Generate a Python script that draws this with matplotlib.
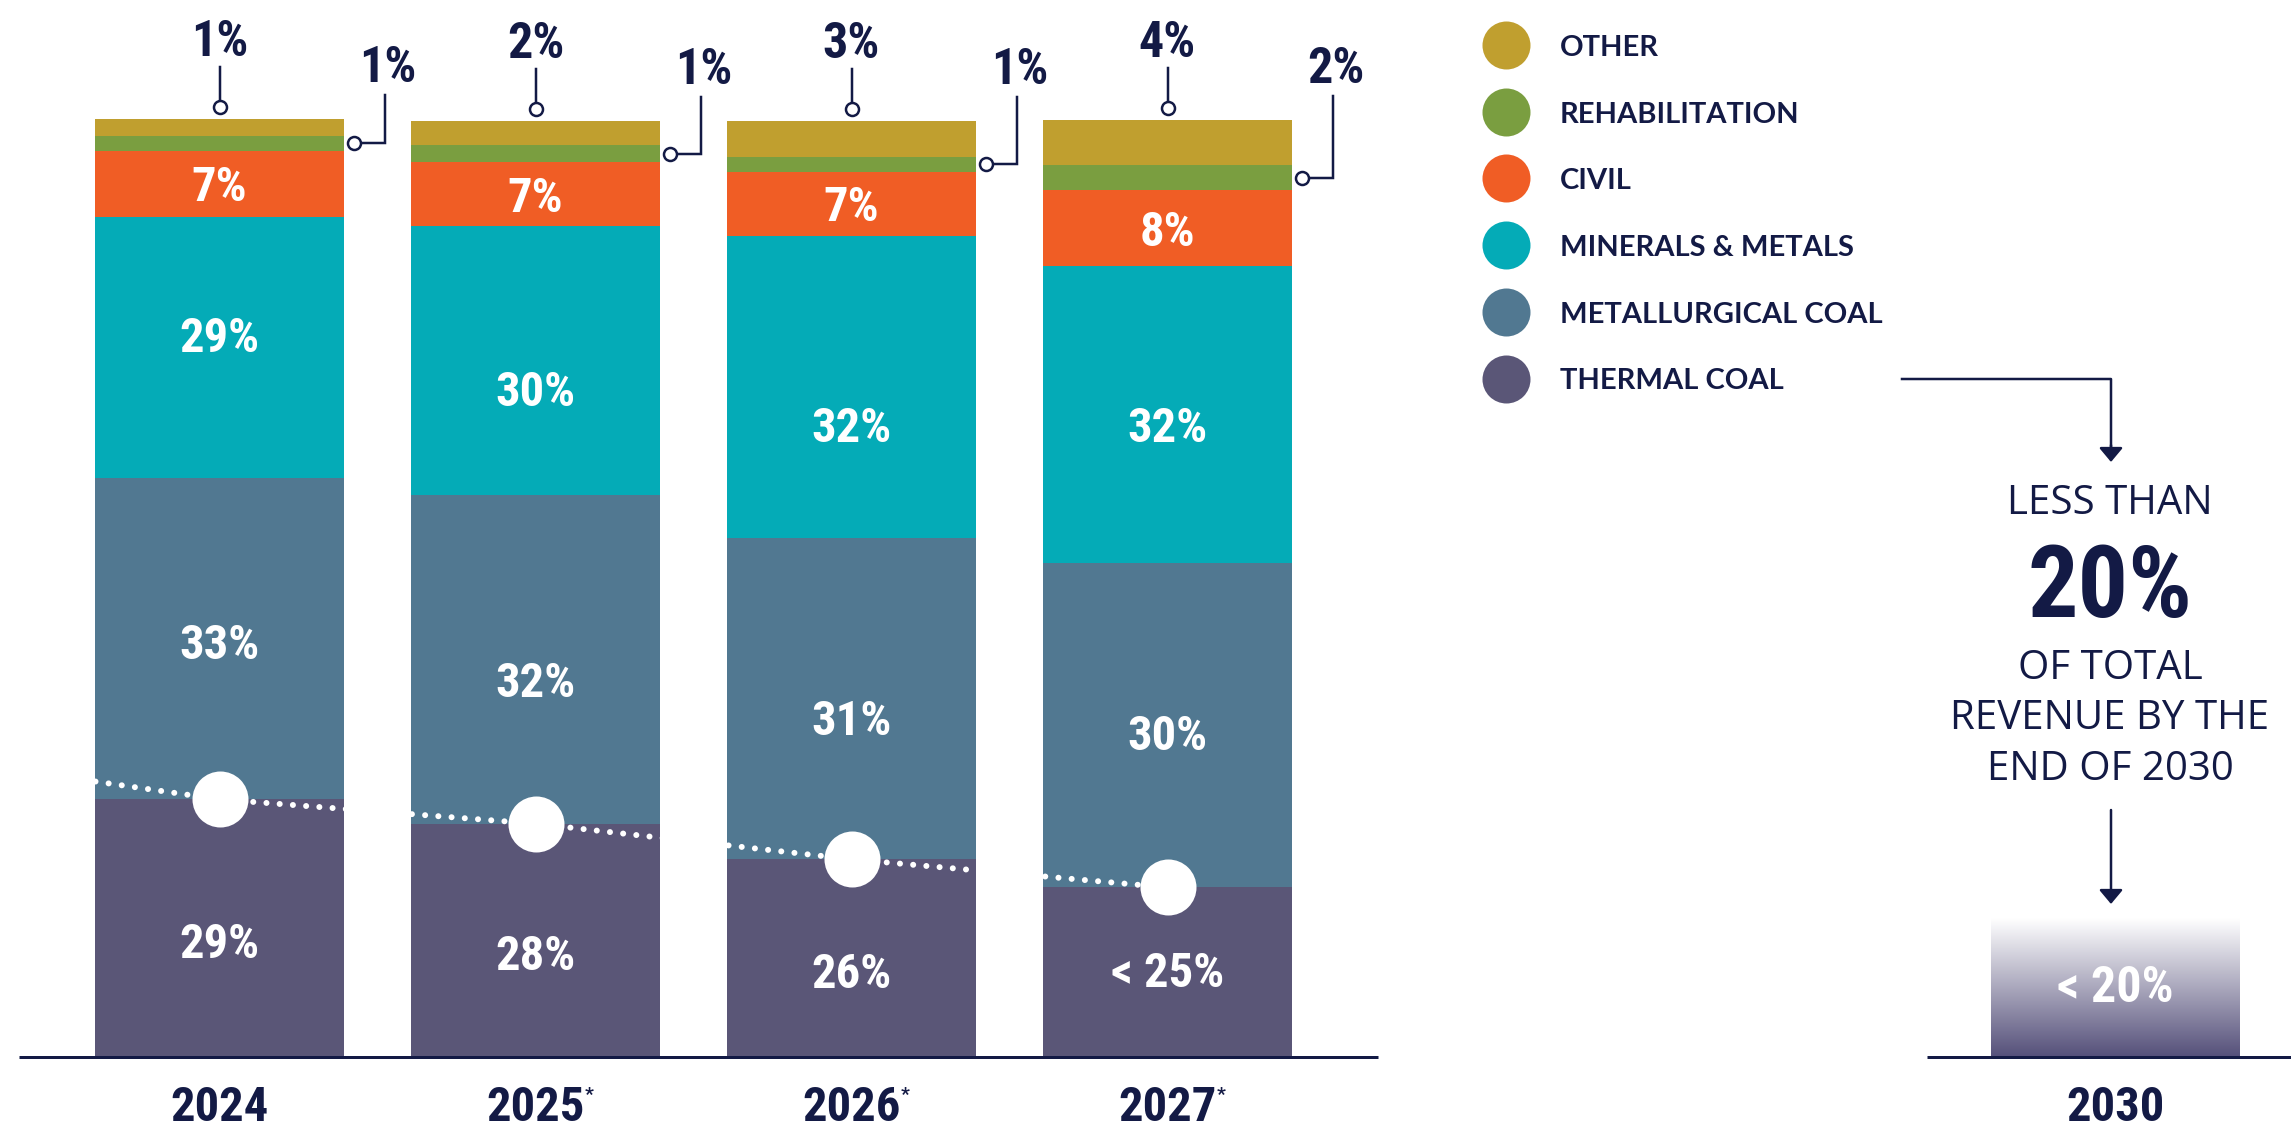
import numpy as np
import matplotlib.pyplot as plt
from matplotlib.colors import LinearSegmentedColormap

# Share of each bar as drawn (percent of the full bar height), bottom to top
years = ["2024", "2025", "2026", "2027"]
projected = [False, True, True, True]
thermal = [27.5, 24.9, 21.1, 18.1]
metallurgical = [34.3, 35.1, 34.3, 34.6]
minerals = [27.9, 28.7, 32.2, 31.7]
civil = [7.0, 6.8, 6.9, 8.1]
rehabilitation = [1.6, 1.8, 1.6, 2.7]
other = [1.8, 2.6, 3.8, 4.8]

# Printed labels
thermal_labels = ["29%", "28%", "26%", "< 25%"]
metallurgical_labels = ["33%", "32%", "31%", "30%"]
minerals_labels = ["29%", "30%", "32%", "32%"]
civil_labels = ["7%", "7%", "7%", "8%"]
rehabilitation_labels = ["1%", "1%", "1%", "2%"]
other_labels = ["1%", "2%", "3%", "4%"]

trend_lead_in = 29.4  # dotted trend height at the left edge of the first bar

target_year = "2030"
target_share = 14.8
target_label = "< 20%"

legend_names = ["OTHER", "REHABILITATION", "CIVIL", "MINERALS & METALS",
                "METALLURGICAL COAL", "THERMAL COAL"]

# Colours
NAVY = "#131a45"
C_OTHER = "#c09f2f"
C_REHAB = "#7a9e40"
C_CIVIL = "#f05d25"
C_MIN = "#04abb7"
C_MET = "#517891"
C_THERM = "#5a5677"

NUM_FONT = ["Roboto Condensed", "Open Sans Condensed", "DejaVu Sans Condensed",
            "Liberation Sans Narrow", "Roboto", "DejaVu Sans"]
LEG_FONT = ["Lato", "DejaVu Sans"]
TXT_FONT = ["Open Sans", "DejaVu Sans"]

# Figure / axes set up so one axes covers the whole canvas
W, H = 2291, 1133
PX0, PXU = 219.5, 316.0   # pixel of x=0, pixels per category
PY0, PYU = 1057.0, 9.37   # pixel of 0 %, pixels per percent
PT = 0.72                 # points per pixel at 100 dpi

# vertical nudges (pixels, + = down) of the in-bar labels, per series
nudge = {
    "thermal": [12, 12, 12, -3],
    "metallurgical": [3, 20, 19, 7],
    "minerals": [-13, 28, 37, 10],
    "civil": [0, 0, 0, 0],
}


def dx(px):
    return (px - PX0) / PXU


def dy(py):
    return (PY0 - py) / PYU


fig = plt.figure(figsize=(W / 100, H / 100), dpi=100)
ax = fig.add_axes([0, 0, 1, 1])
ax.axis("off")

x = np.arange(len(years))
width = 0.785

# Stacked bars
series = [
    ("thermal", thermal, C_THERM, thermal_labels),
    ("metallurgical", metallurgical, C_MET, metallurgical_labels),
    ("minerals", minerals, C_MIN, minerals_labels),
    ("civil", civil, C_CIVIL, civil_labels),
    ("rehabilitation", rehabilitation, C_REHAB, None),
    ("other", other, C_OTHER, None),
]
bottom = np.zeros(len(years))
rehab_mid = None
for name, vals, color, labels in series:
    vals = np.array(vals)
    ax.bar(x, vals, width, bottom=bottom, color=color, linewidth=0, zorder=2)
    if labels is not None:
        for i in range(len(years)):
            yc = bottom[i] + vals[i] / 2 - nudge[name][i] / PYU
            ax.text(x[i], yc - 17.5 / PYU, labels[i], ha="center", va="baseline",
                    fontsize=35, fontweight="bold", family=NUM_FONT, color="white", zorder=5)
    if name == "rehabilitation":
        rehab_mid = bottom + vals / 2
    bottom = bottom + vals
tops = bottom

# Dotted trend line and white markers on the thermal coal boundary
ax.plot([x[0] - width / 2] + list(x), [trend_lead_in] + thermal, color="white",
        lw=6 * PT, linestyle=(0, (0.01, 2.2)), dash_capstyle="round", zorder=3)
ax.plot(x, thermal, "o", ms=56 * PT, mfc="white", mec="none", zorder=4)

# Leaders: 'other' above each bar, 'rehabilitation' to the right
for i in range(len(years)):
    ax.plot([x[i], x[i]], [tops[i] + 18 / PYU, tops[i] + 52 / PYU], color=NAVY, lw=2.5 * PT, zorder=3)
    ax.plot(x[i], tops[i] + 12 / PYU, "o", ms=13 * PT, mfc="white", mec=NAVY, mew=2.5 * PT, zorder=4)
    ax.text(x[i], tops[i] + 63 / PYU, other_labels[i], ha="center", va="baseline",
            fontsize=36, fontweight="bold", family=NUM_FONT, color=NAVY)

    cx = x[i] + width / 2 + 10 / PXU
    ex = x[i] + 165 / PXU
    ax.plot([cx, ex, ex], [rehab_mid[i], rehab_mid[i], tops[i] + 24 / PYU],
            color=NAVY, lw=2.5 * PT, zorder=3, solid_joinstyle="miter")
    ax.plot(cx, rehab_mid[i], "o", ms=13 * PT, mfc="white", mec=NAVY, mew=2.5 * PT, zorder=4)
    ax.text(ex + 3 / PXU, tops[i] + 37 / PYU, rehabilitation_labels[i], ha="center", va="baseline",
            fontsize=36, fontweight="bold", family=NUM_FONT, color=NAVY)

    # Year labels
    t = ax.text(x[i], dy(1131), years[i], ha="center", va="bottom",
                fontsize=35, fontweight="bold", family=NUM_FONT, color=NAVY)
    if projected[i]:
        ax.annotate("*", xy=(1, 1), xycoords=t, xytext=(0, -1), textcoords="offset points",
                    ha="left", va="top", fontsize=14, fontweight="bold",
                    family=NUM_FONT, color=NAVY)

# 2030 target bar with a fading gradient
tx = len(years) + 2
fade = LinearSegmentedColormap.from_list("fade", ["#55507a", "white"])
grad = np.linspace(0, 1, 256).reshape(-1, 1)
ax.imshow(grad, cmap=fade, origin="lower", aspect="auto", zorder=2,
          extent=[tx - width / 2, tx + width / 2, 0, target_share])
ax.text(tx, dy(1002), target_label, ha="center", va="baseline", fontsize=36,
        fontweight="bold", family=NUM_FONT, color="white", zorder=5)
ax.text(tx, dy(1131), target_year, ha="center", va="bottom", fontsize=35,
        fontweight="bold", family=NUM_FONT, color=NAVY)

# Baselines
ax.plot([dx(19), dx(1378)], [0, 0], color=NAVY, lw=3 * PT, solid_capstyle="butt", zorder=3)
ax.plot([dx(1927), dx(W)], [0, 0], color=NAVY, lw=3 * PT, solid_capstyle="butt", zorder=3)

# Legend
leg_colors = [C_OTHER, C_REHAB, C_CIVIL, C_MIN, C_MET, C_THERM]
for k, (name, color) in enumerate(zip(legend_names, leg_colors)):
    py = 45 + 66.7 * k
    ax.plot(dx(1506), dy(py), "o", ms=48 * PT, color=color, mec="none")
    ax.text(dx(1560), dy(py + 11), name, ha="left", va="baseline", fontsize=21,
            fontweight="bold", family=LEG_FONT, color=NAVY)

# Callout from thermal coal to the 2030 target
ax.plot([dx(1902), dx(2111), dx(2111)], [dy(379), dy(379), dy(452)], color=NAVY, lw=2.5 * PT)
arrow = dict(arrowstyle="-|>,head_length=0.43,head_width=0.36", mutation_scale=20,
             color=NAVY, lw=2.5 * PT, shrinkA=0, shrinkB=0)
ax.annotate("", xy=(dx(2111), dy(462)), xytext=(dx(2111), dy(445)), arrowprops=arrow)
ax.annotate("", xy=(dx(2111), dy(904)), xytext=(dx(2111), dy(810)), arrowprops=arrow)

ax.text(dx(2110), dy(514), "LESS THAN", ha="center", va="baseline", fontsize=29,
        family=TXT_FONT, color=NAVY)
ax.text(dx(2110), dy(617), "20%", ha="center", va="baseline", fontsize=72,
        fontweight="bold", family=NUM_FONT, color=NAVY)
for line, py in [("OF TOTAL", 679), ("REVENUE BY THE", 729), ("END OF 2030", 780)]:
    ax.text(dx(2110), dy(py), line, ha="center", va="baseline", fontsize=29,
            family=TXT_FONT, color=NAVY)

ax.set_xlim(dx(0), dx(W))
ax.set_ylim(dy(H), dy(0))

fig.savefig("out.png", dpi=100)
